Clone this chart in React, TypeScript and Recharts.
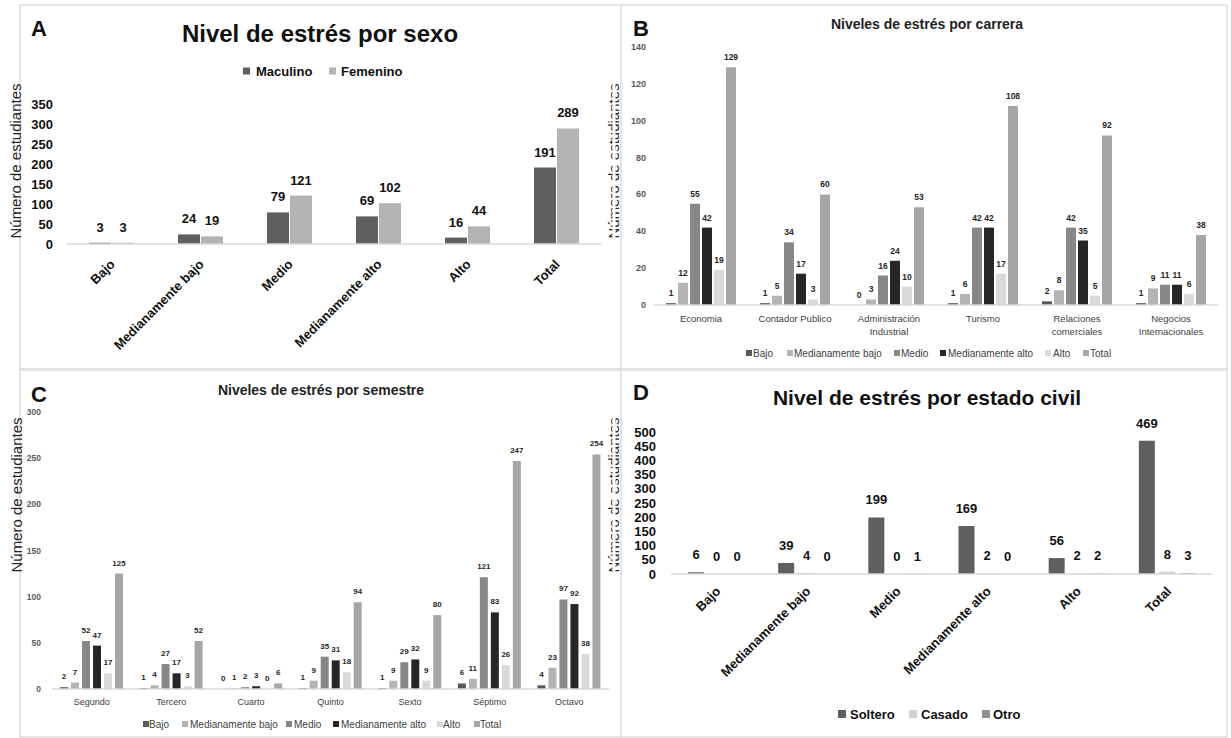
import React from 'react';
import { BarChart, Bar, XAxis, YAxis, LabelList } from 'recharts';

const FONT = '"Liberation Sans", Arial, Helvetica, sans-serif';

// ---------- Panel A: nivel de estrés por sexo ----------
const levelCats = ['Bajo', 'Medianamente bajo', 'Medio', 'Medianamente alto', 'Alto', 'Total'];
const sexMale = [3, 24, 79, 69, 16, 191];
const sexFemale = [3, 19, 121, 102, 44, 289];
const sexTicks = [0, 50, 100, 150, 200, 250, 300, 350];

// ---------- Panel B: niveles de estrés por carrera ----------
const careerCats = ['Economia', 'Contador Publico', 'Administración\nIndustrial', 'Turismo', 'Relaciones\ncomerciales', 'Negocios\nInternacionales'];
const careerBajo = [1, 1, 0, 1, 2, 1];
const careerMedBajo = [12, 5, 3, 6, 8, 9];
const careerMedio = [55, 34, 16, 42, 42, 11];
const careerMedAlto = [42, 17, 24, 42, 35, 11];
const careerAlto = [19, 3, 10, 17, 5, 6];
const careerTotal = [129, 60, 53, 108, 92, 38];
const careerTicks = [0, 20, 40, 60, 80, 100, 120, 140];

// ---------- Panel C: niveles de estrés por semestre ----------
const semCats = ['Segundo', 'Tercero', 'Cuarto', 'Quinto', 'Sexto', 'Séptimo', 'Octavo'];
const semBajo = [2, 1, 0, 1, 1, 6, 4];
const semMedBajo = [7, 4, 1, 9, 9, 11, 23];
const semMedio = [52, 27, 2, 35, 29, 121, 97];
const semMedAlto = [47, 17, 3, 31, 32, 83, 92];
const semAlto = [17, 3, 0, 18, 9, 26, 38];
const semTotal = [125, 52, 6, 94, 80, 247, 254];
const semTicks = [0, 50, 100, 150, 200, 250, 300];

// ---------- Panel D: nivel de estrés por estado civil ----------
const civilSoltero = [6, 39, 199, 169, 56, 469];
const civilCasado = [0, 4, 0, 2, 2, 8];
const civilOtro = [0, 0, 1, 0, 2, 3];
const civilTicks = [0, 50, 100, 150, 200, 250, 300, 350, 400, 450, 500];

const levelSeriesNames = ['Bajo', 'Medianamente bajo', 'Medio', 'Medianamente alto', 'Alto', 'Total'];
const levelColors = ['#595959', '#b4b4b4', '#878787', '#262626', '#dadada', '#a6a6a6'];

const dataA = levelCats.map((cat, i) => ({ cat, Maculino: sexMale[i], Femenino: sexFemale[i] }));
const careerSeries = [careerBajo, careerMedBajo, careerMedio, careerMedAlto, careerAlto, careerTotal];
const dataB = careerCats.map((cat, i) => {
  const o: any = { cat };
  careerSeries.forEach((s, k) => { o['s' + k] = s[i]; });
  return o;
});
const semSeries = [semBajo, semMedBajo, semMedio, semMedAlto, semAlto, semTotal];
const dataC = semCats.map((cat, i) => {
  const o: any = { cat };
  semSeries.forEach((s, k) => { o['s' + k] = s[i]; });
  return o;
});
const dataD = levelCats.map((cat, i) => ({ cat, Soltero: civilSoltero[i], Casado: civilCasado[i], Otro: civilOtro[i] }));

const labelRenderer = (fs: number, gap: number, color: string) => (p: any) => {
  const vb = p.viewBox && p.viewBox.width !== undefined ? p.viewBox : p;
  const x = Number(vb.x) + Number(vb.width) / 2;
  const h = Number(vb.height) || 0;
  const y = Number(vb.y) + (h < 0 ? h : 0);
  return (
    <text x={x} y={y - gap} textAnchor="middle" fontSize={fs} fontWeight="bold" fill={color} fontFamily={FONT}>
      {String(p.value)}
    </text>
  );
};

const yTick = (fs: number, color: string) => (p: any) => (
  <text x={p.x} y={p.y} textAnchor="end" dominantBaseline="central" fontSize={fs} fontWeight="bold" fill={color} fontFamily={FONT}>
    {p.payload.value}
  </text>
);

const rotTick = (dx: number) => (p: any) => (
  <text
    x={p.x + dx}
    y={p.y}
    transform={`rotate(-45 ${p.x + dx} ${p.y})`}
    textAnchor="end"
    dominantBaseline="central"
    fontSize={13}
    fontWeight="bold"
    fill="#111"
    fontFamily={FONT}
  >
    {p.payload.value}
  </text>
);

const multiTick = (fs: number, first: number, lh: number) => (p: any) => {
  const lines = String(p.payload.value).split('\n');
  return (
    <text x={p.x} y={p.y + first} textAnchor="middle" fontSize={fs} fill="#404040" fontFamily={FONT}>
      {lines.map((l, i) => (
        <tspan key={i} x={p.x} dy={i === 0 ? 0 : lh}>{l}</tspan>
      ))}
    </text>
  );
};

const axisStroke = { stroke: '#d9d9d9', strokeWidth: 1.5 };
const MINP = 0.01;

function LegendItems({ items, y, size, fs, bold, color }: any) {
  return (
    <g>
      {items.map((it: any, i: number) => (
        <g key={i}>
          <rect x={it.sx} y={y - size / 2} width={size} height={size} fill={it.color} />
          <text x={it.tx} y={y} dominantBaseline="central" fontSize={fs} fontWeight={bold ? 'bold' : 'normal'} fill={color} fontFamily={FONT}>
            {it.name}
          </text>
        </g>
      ))}
    </g>
  );
}

const legendBPos = [[746, 753], [787, 794], [894, 901], [940, 948], [1045, 1053], [1083, 1090]];
const legendCPos = [[143, 149], [182, 190], [286, 294], [333, 341], [437, 443], [474, 480]];

export default function App() {
  return (
    <div style={{ position: 'absolute', left: 0, top: 0, width: 1231, height: 738, background: '#fff', fontFamily: FONT, overflow: 'hidden' }}>
      {/* Panel A */}
      <div style={{ position: 'absolute', left: 0, top: 0 }}>
        <BarChart width={615} height={370} data={dataA} margin={{ top: 104, right: 14, bottom: 66, left: 27 }} barSize={22} barGap={1}>
          <XAxis dataKey="cat" interval={0} tickLine={false} axisLine={axisStroke} height={60} tickSize={0} tickMargin={18} tick={rotTick(1)} />
          <YAxis type="number" domain={[0, 350]} ticks={sexTicks} interval={0} width={40} axisLine={false} tickLine={false} tickSize={0} tickMargin={14} tick={yTick(13, '#111')} />
          <Bar dataKey="Maculino" fill="#5f5f5f" isAnimationActive={false} minPointSize={MINP}>
            <LabelList dataKey="Maculino" content={labelRenderer(13, 11, '#111')} />
          </Bar>
          <Bar dataKey="Femenino" fill="#b3b3b3" isAnimationActive={false} minPointSize={MINP}>
            <LabelList dataKey="Femenino" content={labelRenderer(13, 11, '#111')} />
          </Bar>
        </BarChart>
      </div>

      {/* Panel B */}
      <div style={{ position: 'absolute', left: 615, top: 0 }}>
        <BarChart width={616} height={370} data={dataB} margin={{ top: 47, right: 13, bottom: 26, left: 9 }} barSize={10} barGap={2}>
          <XAxis dataKey="cat" interval={0} tickLine={false} axisLine={axisStroke} height={39} tickSize={0} tickMargin={0} tick={multiTick(9.5, 17, 12.5)} />
          <YAxis type="number" domain={[0, 140]} ticks={careerTicks} interval={0} width={30} axisLine={false} tickLine={false} tickSize={0} tickMargin={8} tick={yTick(9, '#595959')} />
          {levelSeriesNames.map((n, k) => (
            <Bar key={n} dataKey={'s' + k} name={n} fill={levelColors[k]} isAnimationActive={false} minPointSize={MINP}>
              <LabelList dataKey={'s' + k} content={labelRenderer(8.5, 7, '#262626')} />
            </Bar>
          ))}
        </BarChart>
      </div>

      {/* Panel C */}
      <div style={{ position: 'absolute', left: 0, top: 370 }}>
        <BarChart width={615} height={368} data={dataC} margin={{ top: 42, right: 6, bottom: 19, left: 22 }} barSize={8} barGap={3}>
          <XAxis dataKey="cat" interval={0} tickLine={false} axisLine={axisStroke} height={30} tickSize={0} tickMargin={0} tick={multiTick(9, 16, 11)} />
          <YAxis type="number" domain={[0, 300]} ticks={semTicks} interval={0} width={30} axisLine={false} tickLine={false} tickSize={0} tickMargin={11} tick={yTick(8.5, '#595959')} />
          {levelSeriesNames.map((n, k) => (
            <Bar key={n} dataKey={'s' + k} name={n} fill={levelColors[k]} isAnimationActive={false} minPointSize={MINP}>
              <LabelList dataKey={'s' + k} content={labelRenderer(8, 8, '#262626')} />
            </Bar>
          ))}
        </BarChart>
      </div>

      {/* Panel D */}
      <div style={{ position: 'absolute', left: 615, top: 370 }}>
        <BarChart width={616} height={368} data={dataD} margin={{ top: 62, right: 19, bottom: 74, left: 16 }} barSize={16} barGap={4.5}>
          <XAxis dataKey="cat" interval={0} tickLine={false} axisLine={axisStroke} height={90} tickSize={0} tickMargin={15} tick={rotTick(2)} />
          <YAxis type="number" domain={[0, 500]} ticks={civilTicks} interval={0} width={40} axisLine={false} tickLine={false} tickSize={0} tickMargin={15} tick={yTick(13, '#111')} />
          <Bar dataKey="Soltero" fill="#5f5f5f" isAnimationActive={false} minPointSize={MINP}>
            <LabelList dataKey="Soltero" content={labelRenderer(13, 13, '#111')} />
          </Bar>
          <Bar dataKey="Casado" fill="#cfcfcf" isAnimationActive={false} minPointSize={MINP}>
            <LabelList dataKey="Casado" content={labelRenderer(13, 13, '#111')} />
          </Bar>
          <Bar dataKey="Otro" fill="#8e8e8e" isAnimationActive={false} minPointSize={MINP}>
            <LabelList dataKey="Otro" content={labelRenderer(13, 13, '#111')} />
          </Bar>
        </BarChart>
      </div>

      {/* Overlay: frames, titles, legends, axis titles */}
      <svg width={1231} height={738} style={{ position: 'absolute', left: 0, top: 0, pointerEvents: 'none' }}>
        <defs>
          <clipPath id="clipMidL">
            <rect x={604} y={0} width={8.5} height={738} />
          </clipPath>
          <clipPath id="clipMidR">
            <rect x={615.5} y={0} width={5} height={738} />
          </clipPath>
        </defs>
        {/* frames */}
        <line x1={20} y1={5} x2={1227} y2={5} stroke="#dcdcdc" strokeWidth={1.5} />
        <line x1={20} y1={369.5} x2={1227} y2={369.5} stroke="#e2e2e2" strokeWidth={3} />
        <line x1={20} y1={737} x2={1227} y2={737} stroke="#dcdcdc" strokeWidth={1.5} />
        <line x1={20} y1={5} x2={20} y2={738} stroke="#dcdcdc" strokeWidth={1.5} />
        <line x1={621} y1={5} x2={621} y2={738} stroke="#dcdcdc" strokeWidth={1.5} />
        <line x1={1227} y1={5} x2={1227} y2={738} stroke="#dcdcdc" strokeWidth={1.5} />

        {/* panel letters */}
        <text x={31} y={36} fontSize={22} fontWeight="bold" fill="#111" fontFamily={FONT}>A</text>
        <text x={633} y={36} fontSize={22} fontWeight="bold" fill="#111" fontFamily={FONT}>B</text>
        <text x={31} y={402} fontSize={22} fontWeight="bold" fill="#111" fontFamily={FONT}>C</text>
        <text x={633} y={400} fontSize={22} fontWeight="bold" fill="#111" fontFamily={FONT}>D</text>

        {/* titles */}
        <text x={320} y={42} textAnchor="middle" fontSize={24} fontWeight="bold" fill="#111" fontFamily={FONT}>Nivel de estrés por sexo</text>
        <text x={927} y={29} textAnchor="middle" fontSize={14} fontWeight="bold" fill="#222" fontFamily={FONT}>Niveles de estrés por carrera</text>
        <text x={321} y={395} textAnchor="middle" fontSize={14} fontWeight="bold" fill="#222" fontFamily={FONT}>Niveles de estrés por semestre</text>
        <text x={927} y={405} textAnchor="middle" fontSize={21} fontWeight="bold" fill="#111" fontFamily={FONT}>Nivel de estrés por estado civil</text>

        {/* axis titles */}
        <text transform="translate(15,161) rotate(-90)" textAnchor="middle" dominantBaseline="central" fontSize={15} fill="#262626" fontFamily={FONT}>Número de estudiantes</text>
        <text transform="translate(16,495) rotate(-90)" textAnchor="middle" dominantBaseline="central" fontSize={15} fill="#262626" fontFamily={FONT}>Número de estudiantes</text>
        <g clipPath="url(#clipMidL)">
          <text transform="translate(613,161) rotate(-90)" textAnchor="middle" dominantBaseline="central" fontSize={15} fill="#262626" fontFamily={FONT}>Número de estudiantes</text>
          <text transform="translate(613,495) rotate(-90)" textAnchor="middle" dominantBaseline="central" fontSize={15} fill="#262626" fontFamily={FONT}>Número de estudiantes</text>
        </g>
        <g clipPath="url(#clipMidR)">
          <text transform="translate(613,161) rotate(-90)" textAnchor="middle" dominantBaseline="central" fontSize={15} fill="#262626" fontFamily={FONT}>Número de estudiantes</text>
          <text transform="translate(613,495) rotate(-90)" textAnchor="middle" dominantBaseline="central" fontSize={15} fill="#262626" fontFamily={FONT}>Número de estudiantes</text>
        </g>

        {/* legends */}
        <LegendItems
          y={71}
          size={7}
          fs={13}
          bold
          color="#111"
          items={[
            { sx: 243, tx: 256, color: '#5f5f5f', name: 'Maculino' },
            { sx: 329, tx: 341, color: '#b3b3b3', name: 'Femenino' },
          ]}
        />
        <LegendItems
          y={353}
          size={6}
          fs={10}
          color="#404040"
          items={levelSeriesNames.map((n, k) => ({ sx: legendBPos[k][0], tx: legendBPos[k][1], color: levelColors[k], name: n }))}
        />
        <LegendItems
          y={724}
          size={6}
          fs={10}
          color="#404040"
          items={levelSeriesNames.map((n, k) => ({ sx: legendCPos[k][0], tx: legendCPos[k][1], color: levelColors[k], name: n }))}
        />
        <LegendItems
          y={714}
          size={8}
          fs={13}
          bold
          color="#111"
          items={[
            { sx: 838, tx: 850, color: '#5f5f5f', name: 'Soltero' },
            { sx: 909, tx: 921, color: '#cfcfcf', name: 'Casado' },
            { sx: 982, tx: 993, color: '#8e8e8e', name: 'Otro' },
          ]}
        />
      </svg>
    </div>
  );
}
